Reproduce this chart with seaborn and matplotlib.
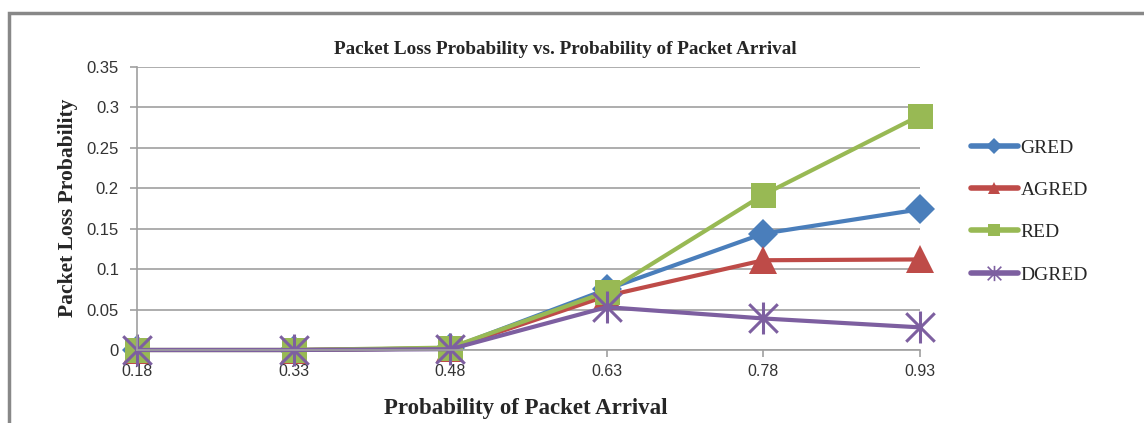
import numpy as np
import pandas as pd
import seaborn as sns
import matplotlib.pyplot as plt
from matplotlib.path import Path
from matplotlib.patches import Rectangle

# 数据
arrival = [0.18, 0.33, 0.48, 0.63, 0.78, 0.93]
arrival_labels = ['0.18', '0.33', '0.48', '0.63', '0.78', '0.93']
gred = [0.0, 0.0, 0.002, 0.075, 0.144, 0.174]
agred = [0.0, 0.0, 0.002, 0.067, 0.111, 0.112]
red = [0.0, 0.0, 0.003, 0.072, 0.192, 0.290]
dgred = [0.0, 0.0, 0.001, 0.053, 0.039, 0.028]
series = ['GRED', 'AGRED', 'RED', 'DGRED']
y_ticks = [0, 0.05, 0.1, 0.15, 0.2, 0.25, 0.3, 0.35]
y_labels = ['0', '0.05', '0.1', '0.15', '0.2', '0.25', '0.3', '0.35']

colors = {'GRED': '#4a7ebb', 'AGRED': '#be4b48', 'RED': '#98b954', 'DGRED': '#7d5fa0'}
# Excel风格的星号标记
star = Path([(-1, -1), (1, 1), (-1, 1), (1, -1), (0, -1.12), (0, 1.12)],
            [Path.MOVETO, Path.LINETO, Path.MOVETO, Path.LINETO, Path.MOVETO, Path.LINETO])
markers = {'GRED': 'D', 'AGRED': '^', 'RED': 's', 'DGRED': star}
msizes = {'GRED': 15, 'AGRED': 20, 'RED': 18, 'DGRED': 23}

df = pd.DataFrame({'arrival': arrival * 4,
                   'loss': gred + agred + red + dgred,
                   'scheme': sum([[s] * len(arrival) for s in series], [])})

sns.set_style('white')
plt.rcParams['font.family'] = ['Liberation Serif', 'DejaVu Serif']

fig = plt.figure(figsize=(11.44, 4.23), dpi=100)
ax = fig.add_axes([137 / 1144, 1 - 350 / 423, (920 - 137) / 1144, (350 - 67) / 423])

sns.lineplot(data=df, x='arrival', y='loss', hue='scheme', style='scheme',
             palette=colors, markers=markers, dashes=False, hue_order=series,
             style_order=series, linewidth=3, markeredgewidth=0, ax=ax, legend=True)
ax.get_legend().remove()

for line, s in zip(ax.lines, series):
    line.set_clip_on(False)
    line.set_markersize(msizes[s])
    if s == 'DGRED':
        line.set_markeredgewidth(2.2)
        line.set_markeredgecolor(colors[s])

ax.set_xlim(0.18, 0.93)
ax.set_ylim(0, 0.35)
ax.set_xticks(arrival)
ax.set_xticklabels(arrival_labels, family='Liberation Sans', color='#333333', fontsize=11.5)
ax.set_yticks(y_ticks)
ax.set_yticklabels(y_labels, family='Liberation Sans', color='#333333', fontsize=12)
ax.yaxis.grid(True, color='#a0a0a0', linewidth=1.2)
for side in ['top', 'right']:
    ax.spines[side].set_visible(False)
for side in ['left', 'bottom']:
    ax.spines[side].set_color('#a0a0a0')
    ax.spines[side].set_linewidth(1.2)
ax.tick_params(axis='both', which='both', direction='out', length=5, width=1.2,
               color='#a0a0a0', left=True, bottom=True)
ax.tick_params(axis='y', pad=8)
ax.tick_params(axis='x', pad=5)
ax.set_xlabel('')
ax.set_ylabel('')

fig.text(565 / 1144, 1 - 49 / 423, 'Packet Loss Probability vs. Probability of Packet Arrival',
         ha='center', va='center', fontsize=13.8, fontweight='bold')
fig.text(526 / 1144, 1 - 408 / 423, 'Probability of Packet Arrival',
         ha='center', va='center', fontsize=16.5, fontweight='bold')
fig.text(68 / 1144, 1 - 208 / 423, 'Packet Loss Probability',
         ha='center', va='center', rotation=90, fontsize=15.5, fontweight='bold')

handles, labels = ax.get_legend_handles_labels()
leg = fig.legend(handles, labels, loc='upper left', bbox_to_anchor=(971 / 1144, 1 - 139 / 423),
                 frameon=False, fontsize=14, handlelength=2.4, handletextpad=0.15,
                 labelspacing=1.27, borderaxespad=0, borderpad=0)
for h, s in zip(leg.legend_handles, series):
    h.set_linewidth(4)
    h.set_markersize(8)
    if s == 'DGRED':
        h.set_markersize(11)
        h.set_markeredgewidth(1.2)
        h.set_markeredgecolor(colors[s])

# 外框
fig.patches.append(Rectangle((8.5 / 1144, -0.1), 1.2, 1.1 - 13.5 / 423, transform=fig.transFigure,
                             fill=False, edgecolor='#888888', linewidth=2.5))

fig.savefig('out.png', dpi=100)
